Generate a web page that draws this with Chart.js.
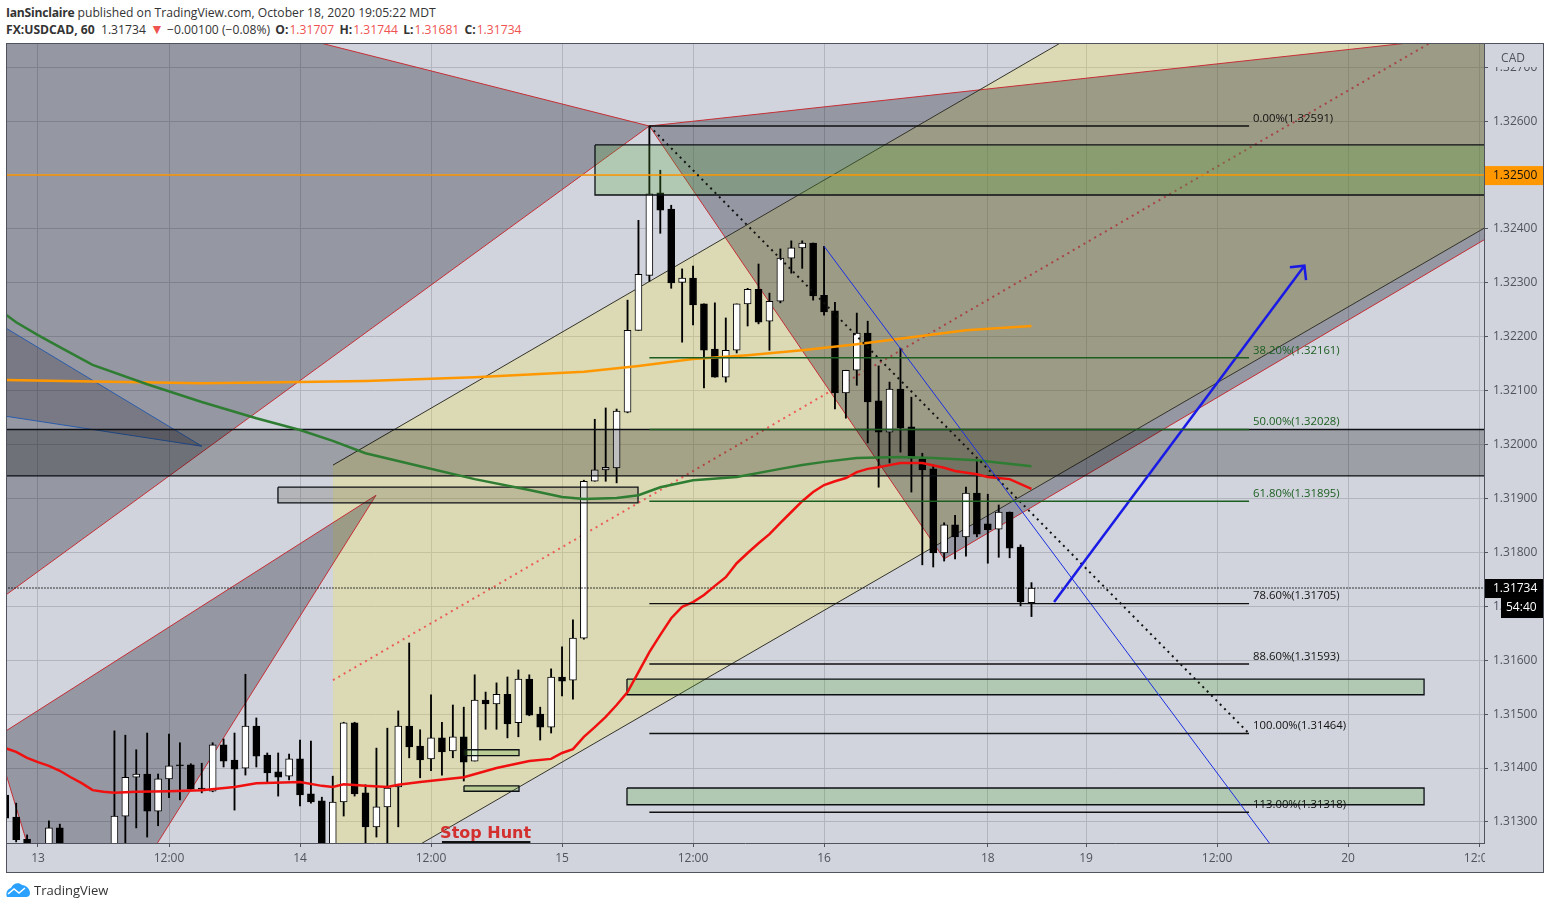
<!DOCTYPE html>
<html>
<head>
<meta charset="utf-8">
<title>USDCAD</title>
<script src="https://cdn.jsdelivr.net/npm/chart.js@4"></script>
<style>
body{margin:0;background:#fff;width:1550px;height:909px;overflow:hidden;position:relative;font-family:"Open Sans",sans-serif;color:#333}
canvas{position:absolute;left:0;top:0}
.head{position:absolute;left:6px;font-size:12.15px;line-height:16px;white-space:nowrap}
.head span{margin-left:1px}
.head b{margin-left:2px}
.red{color:#ef5350}
.tri{color:#ef5350;font-size:14px;line-height:12px}
#brand{position:absolute;left:34px;top:882px;font-size:13px;line-height:16px;color:#333}
#cloud{position:absolute;left:6px;top:882px}
</style>
</head>
<body>
<div class="head" style="top:5px"><b style="margin:0;letter-spacing:-.25px">IanSinclaire</b> published on TradingView.com, October 18, 2020 19:05:22 MDT</div>
<div class="head" style="top:22px"><b style="margin:0">FX:USDCAD, 60</b>&nbsp; 1.31734 <span class="tri">▼</span> −0.00100 (−0.08%) <b>O:</b><span class="red">1.31707</span> <b>H:</b><span class="red">1.31744</span> <b>L:</b><span class="red">1.31681</span> <b>C:</b><span class="red">1.31734</span></div>
<canvas id="c" width="1550" height="909"></canvas>
<svg id="cloud" width="25" height="16" viewBox="0 0 25 16"><path fill="#2aa1ff" d="M1 15 C-1 10 2 7 5 6 C7 1 13 0 16 3 C20 3 24 7 24 11 C24 14 22 15 20 15 Z"/><path fill="none" stroke="#fff" stroke-width="1.6" d="M2 12 L8 7 L13 11 L19 6"/></svg>
<div id="brand">TradingView</div>
<script>
// candles, first one is bar -3, 13th 00:00 is bar 0
var firstBar = -3
var opens = [1.31350,1.31309,1.31268,1.31250,1.31239,1.31289,1.31230,1.31210,1.31225,1.31205,1.31248,1.31311,1.31383,1.31389,1.31320,1.31380,1.31406,1.31406,1.31363,1.31357,1.31443,1.31415,1.31400,1.31478,1.31424,1.31393,1.31385,1.31417,1.31352,1.31339,1.31248,1.31337,1.31484,1.31354,1.31291,1.31328,1.31365,1.31478,1.31441,1.31417,1.31456,1.31432,1.31458,1.31413,1.31526,1.31519,1.31537,1.31484,1.31565,1.31500,1.31476,1.31569,1.31563,1.31641,1.31932,1.31953,1.31957,1.32060,1.32212,1.32314,1.32467,1.32437,1.32301,1.32309,1.32261,1.32177,1.32125,1.32175,1.32261,1.32288,1.32229,1.32266,1.32346,1.32365,1.32374,1.32277,1.32248,1.32096,1.32138,1.32207,1.32081,1.32023,1.32103,1.32033,1.31973,1.31955,1.31799,1.31851,1.31829,1.31910,1.31853,1.31843,1.31875,1.31810,1.31707]
var highs = [1.31359,1.31335,1.31276,1.31260,1.31302,1.31296,1.31245,1.31235,1.31240,1.31245,1.31469,1.31461,1.31434,1.31465,1.31389,1.31463,1.31447,1.31408,1.31409,1.31447,1.31454,1.31465,1.31574,1.31493,1.31428,1.31428,1.31426,1.31452,1.31450,1.31346,1.31385,1.31485,1.31485,1.31369,1.31437,1.31474,1.31506,1.31632,1.31471,1.31536,1.31485,1.31517,1.31513,1.31573,1.31541,1.31558,1.31569,1.31582,1.31573,1.31513,1.31584,1.31625,1.31675,1.31934,1.32047,1.32068,1.32066,1.32268,1.32416,1.32591,1.32509,1.32444,1.32326,1.32331,1.32261,1.32263,1.32235,1.32261,1.32290,1.32335,1.32281,1.32363,1.32378,1.32378,1.32374,1.32368,1.32264,1.32138,1.32244,1.32229,1.32146,1.32116,1.32179,1.32088,1.31984,1.31962,1.31855,1.31869,1.31921,1.31971,1.31908,1.31888,1.31875,1.31814,1.31744]
var lows = [1.31294,1.31263,1.31239,1.31200,1.31225,1.31215,1.31200,1.31195,1.31190,1.31195,1.31235,1.31250,1.31289,1.31272,1.31293,1.31345,1.31341,1.31361,1.31354,1.31356,1.31402,1.31322,1.31387,1.31402,1.31374,1.31348,1.31378,1.31330,1.31335,1.31240,1.31240,1.31311,1.31348,1.31248,1.31272,1.31248,1.31291,1.31419,1.31382,1.31395,1.31387,1.31419,1.31376,1.31413,1.31472,1.31472,1.31456,1.31458,1.31497,1.31452,1.31465,1.31534,1.31528,1.31639,1.31932,1.31932,1.31929,1.32059,1.32212,1.32303,1.32392,1.32290,1.32190,1.32222,1.32105,1.32125,1.32116,1.32170,1.32220,1.32224,1.32175,1.32263,1.32318,1.32327,1.32268,1.32240,1.32066,1.32049,1.32110,1.32003,1.31921,1.31966,1.31986,1.31912,1.31777,1.31773,1.31784,1.31788,1.31793,1.31829,1.31780,1.31791,1.31790,1.31701,1.31681]
var closes = [1.31307,1.31267,1.31248,1.31220,1.31289,1.31230,1.31210,1.31225,1.31205,1.31240,1.31311,1.31383,1.31389,1.31320,1.31380,1.31404,1.31404,1.31361,1.31361,1.31443,1.31413,1.31398,1.31478,1.31422,1.31391,1.31383,1.31417,1.31350,1.31337,1.31248,1.31337,1.31484,1.31352,1.31291,1.31328,1.31363,1.31478,1.31439,1.31415,1.31456,1.31430,1.31458,1.31411,1.31526,1.31519,1.31537,1.31482,1.31565,1.31498,1.31476,1.31569,1.31561,1.31641,1.31932,1.31953,1.31958,1.32062,1.32212,1.32316,1.32465,1.32435,1.32300,1.32309,1.32259,1.32175,1.32125,1.32175,1.32261,1.32288,1.32227,1.32266,1.32346,1.32365,1.32374,1.32276,1.32246,1.32096,1.32138,1.32207,1.32079,1.32023,1.32103,1.32031,1.31975,1.31953,1.31799,1.31851,1.31829,1.31910,1.31834,1.31842,1.31875,1.31808,1.31708,1.31734]

// moving averages, [bar, price]
var maRed = [[-3,1.31437],[-2,1.31430],[-1,1.31419],[0,1.31411],[1,1.31404],[2,1.31395],[3,1.31383],[4,1.31372],[5,1.31359],[6,1.31356],[7,1.31354],[9,1.31356],[12,1.31357],[15,1.31359],[18,1.31365],[20,1.31372],[24,1.31374],[26,1.31367],[27,1.31365],[28,1.31370],[30,1.31367],[32,1.31365],[33,1.31369],[35,1.31374],[39,1.31383],[42,1.31400],[45,1.31413],[47,1.31417],[48,1.31428],[49,1.31435],[50,1.31458],[51,1.31476],[52,1.31495],[53,1.31517],[54,1.31541],[55,1.31578],[56,1.31615],[57,1.31647],[58,1.31678],[59,1.31699],[60,1.31708],[61,1.31721],[62,1.31738],[63,1.31754],[64,1.31780],[65,1.31799],[66,1.31817],[67,1.31834],[68,1.31855],[69,1.31875],[70,1.31895],[71,1.31912],[72,1.31925],[73,1.31932],[74,1.31938],[75,1.31949],[76,1.31955],[77,1.31958],[78,1.31962],[79,1.31966],[81,1.31966],[83,1.31957],[84,1.31951],[86,1.31945],[87,1.31940],[89,1.31936],[91,1.31918]]
var maOrange = [[-3,1.32120],[5,1.32117],[15,1.32114],[24,1.32116],[30,1.32118],[40,1.32125],[50,1.32135],[55,1.32146],[60,1.32159],[65,1.32166],[70,1.32175],[75,1.32186],[80,1.32199],[85,1.32212],[91,1.32220]]
var maGreen = [[-3,1.32242],[-2,1.32227],[0,1.32203],[2,1.32181],[5,1.32148],[10,1.32112],[15,1.32079],[20,1.32049],[24,1.32027],[27,1.32007],[30,1.31984],[35,1.31960],[40,1.31936],[45,1.31916],[48,1.31903],[50,1.31899],[53,1.31901],[55,1.31906],[57,1.31921],[60,1.31934],[64,1.31940],[68,1.31955],[70,1.31962],[72,1.31968],[75,1.31975],[79,1.31977],[82,1.31975],[86,1.31971],[91,1.31960]]

// fib levels
var fibPrices = [1.32591,1.32161,1.32028,1.31895,1.31705,1.31593,1.31464,1.31318]
var fibLabels = ["0.00%(1.32591)","38.20%(1.32161)","50.00%(1.32028)","61.80%(1.31895)","78.60%(1.31705)","88.60%(1.31593)","100.00%(1.31464)","113.00%(1.31318)"]
var fibColors = ["#111","#1b5e20","#1b5e20","#1b5e20","#111","#111","#111","#111"]

// axis
var xTickBars = [0,12,24,36,48,60,72,87,96,108,120,132]
var xTickLabels = ["13","12:00","14","12:00","15","12:00","16","18","19","12:00","20","12:00"]

// drawings on the chart, [bar, price]
var gannTopLeft = [[56,1.32591],[-6,1.32908],[-6,1.31676],[56,1.32591]]
var gannRight = [[56,1.32591],[143.08,1.32784],[143.08,1.32507],[83,1.31788],[56,1.32591]]
var gannBottom = [[30.96,1.31906],[-3.94,1.31456],[-0.68,1.31239],[10.26,1.31239],[30.96,1.31906]]
var blueWedge = [[15.02,1.31997],[-5.96,1.32253],[-5.96,1.32062],[15.02,1.31997]]
var channelFill = [[27.02,1.31962],[143.08,1.33326],[143.08,1.32526],[27.02,1.31165],[27.02,1.31962]]
var channelTop = [[27.02,1.31962],[143.08,1.33326]]
var channelBottom = [[27.02,1.31165],[143.08,1.32526]]
var channelMid = [[27.02,1.31563],[127.5,1.32745]]
var fibDiagonal = [[56,1.32591],[110.93,1.31464]]
var blueLine = [[72,1.32368],[113.6,1.31239]]
var arrowLine = [[93.07,1.31708],[116,1.32332]]
var arrowHead = [[114.67,1.32329],[116,1.32332],[116.15,1.32305]]
var stopHuntUnderline = [[37,1.31263],[45.1,1.31263]]
var zoneBand = [[-6,1.32028],[143,1.32028],[143,1.31942],[-6,1.31942],[-6,1.32028]]
var zoneTop = [[51.02,1.32556],[143,1.32556],[143,1.32463],[51.02,1.32463],[51.02,1.32556]]
var zoneSmall = [[21.98,1.31921],[54.96,1.31921],[54.96,1.31892],[21.98,1.31892],[21.98,1.31921]]
var zoneGreen1 = [[53.95,1.31565],[126.96,1.31565],[126.96,1.31536],[53.95,1.31536],[53.95,1.31565]]
var zoneGreen2 = [[53.95,1.31363],[126.96,1.31363],[126.96,1.31332],[53.95,1.31332],[53.95,1.31363]]
var zoneTiny1 = [[39.02,1.31434],[44.06,1.31434],[44.06,1.31423],[39.02,1.31423],[39.02,1.31434]]
var zoneTiny2 = [[39.02,1.31367],[44.06,1.31367],[44.06,1.31357],[39.02,1.31357],[39.02,1.31367]]

var hLevel = 1.325
var lastPrice = 1.31734

function toXY(arr){
	return arr.map(p => ({x: p[0], y: p[1]}))
}
function line(arr, color, width, dash){
	return {type: 'line', data: toXY(arr), borderColor: color, borderWidth: width, borderDash: dash || [], pointRadius: 0, fill: false, tension: 0}
}
function shape(arr, fillColor, edge, width){
	return {type: 'line', data: toXY(arr), backgroundColor: fillColor, borderColor: edge || 'rgba(0,0,0,0)', borderWidth: width === undefined ? 1 : width, pointRadius: 0, fill: 'shape', tension: 0}
}

var wicks = [], bodies = [], bodyFill = []
for(var i = 0; i < opens.length; i++){
	wicks.push({x: firstBar + i, y: [lows[i], highs[i]]})
	bodies.push({x: firstBar + i, y: [opens[i], closes[i]]})
	bodyFill.push(closes[i] >= opens[i] ? '#ffffff' : '#000000')
}

var RED_EDGE = '#c62f36'
var ZONE_EDGE = '#0c0f14'
var ZONE_GREEN = 'rgba(85,165,50,0.25)'
var sets = [
	shape(channelFill, 'rgba(255,235,59,0.25)'),
	line(channelMid, 'rgba(240,70,70,0.85)', 2, [2,4.2]),
	shape(gannTopLeft, 'rgba(10,10,30,0.3)', RED_EDGE),
	shape(gannRight, 'rgba(10,10,30,0.3)', RED_EDGE),
	shape(gannBottom, 'rgba(10,10,30,0.3)', RED_EDGE),
	shape(blueWedge, 'rgba(5,5,15,0.2)', '#2a5caa'),
	line(channelTop, '#33332a', 1),
	line(channelBottom, '#33332a', 1),
	{type: 'bar', data: wicks, backgroundColor: '#000', barThickness: 1.2, grouped: false, borderWidth: 0},
	{type: 'bar', data: bodies, backgroundColor: bodyFill, borderColor: '#000', borderWidth: 1, borderSkipped: false, barThickness: 7, grouped: false},
	shape(zoneBand, 'rgba(0,0,0,0.25)', ZONE_EDGE, 1.3),
	shape(zoneTop, ZONE_GREEN, ZONE_EDGE, 1.3),
	shape(zoneSmall, 'rgba(60,60,40,0.2)', ZONE_EDGE, 1.3),
	shape(zoneGreen1, ZONE_GREEN, ZONE_EDGE, 1.3),
	shape(zoneGreen2, ZONE_GREEN, ZONE_EDGE, 1.3),
	shape(zoneTiny1, ZONE_GREEN, ZONE_EDGE, 1.3),
	shape(zoneTiny2, ZONE_GREEN, ZONE_EDGE, 1.3),
	line([[-6,hLevel],[143,hLevel]], '#ff9800', 1.5),
	line([[-6,lastPrice],[143,lastPrice]], '#000', 1.3, [1,2]),
	line(maOrange, '#ff9800', 2.5),
	line(maGreen, '#2e7d32', 2.5),
	line(maRed, '#f01010', 2.5),
	line(fibDiagonal, '#111', 2, [2,4.2]),
	line(blueLine, '#1a2fe0', 1),
	line(arrowLine, '#1a1ae6', 2.5),
	line(arrowHead, '#1a1ae6', 2.5),
	line(stopHuntUnderline, '#111', 2)
]
fibPrices.forEach((p, k) => {
	sets.push(line([[56,p],[110.93,p]], fibColors[k], 1.4))
})
// first dataset is drawn on top, so count order backwards
sets.forEach((s, k) => { s.order = sets.length - k })

var overlay = {
	id: 'overlay',
	beforeDraw(chart){
		var c = chart.ctx
		c.save()
		c.fillStyle = '#d1d4dc'
		c.fillRect(6, 43, 1537, 829)
		c.restore()
	},
	afterDraw(chart){
		var c = chart.ctx, xs = chart.scales.x, ys = chart.scales.y
		c.save()
		// fib labels
		c.font = '11.3px "Open Sans"'
		c.textBaseline = 'middle'
		fibLabels.forEach((t, k) => {
			c.fillStyle = fibColors[k]
			c.fillText(t, xs.getPixelForValue(111.3), ys.getPixelForValue(fibPrices[k]) - 7.5)
		})
		c.font = 'bold 16px "DejaVu Sans"'
		c.fillStyle = '#d32f2f'
		c.textAlign = 'center'
		c.fillText('Stop Hunt', xs.getPixelForValue(41), ys.getPixelForValue(1.31300) + 12)
		// right axis boxes
		var rx = xs.right + 1
		c.font = '12px "Open Sans"'
		c.textAlign = 'left'
		c.fillStyle = '#d1d4dc'
		c.fillRect(rx, 844, 58, 28)
		c.fillRect(1490, 50, 50, 17)
		c.fillStyle = '#50535e'
		c.textAlign = 'center'
		c.fillText('CAD', 1513, 59)
		c.textAlign = 'left'
		var yOrange = ys.getPixelForValue(hLevel)
		c.fillStyle = '#ff9800'
		c.fillRect(rx, yOrange - 9, 59, 19)
		c.fillStyle = '#111'
		c.fillText(hLevel.toFixed(5), 1493, yOrange + 1)
		var yLast = ys.getPixelForValue(lastPrice)
		c.fillStyle = '#000'
		c.fillRect(rx, yLast - 9, 59, 19)
		c.fillRect(1501, yLast + 10, 42, 20)
		c.fillStyle = '#fff'
		c.fillText(lastPrice.toFixed(5), 1493, yLast + 1)
		c.fillText('54:40', 1506, yLast + 20)
		// frame
		c.strokeStyle = '#50535e'
		c.lineWidth = 1
		c.strokeRect(6.5, 43.5, 1537, 829)
		c.restore()
	}
}

new Chart(document.getElementById('c'), {
	data: {datasets: sets},
	plugins: [overlay],
	options: {
		responsive: false,
		animation: false,
		events: [],
		layout: {padding: {left: 6, top: 43, right: 7, bottom: 37}},
		plugins: {legend: {display: false}, tooltip: {enabled: false}},
		scales: {
			x: {
				type: 'linear',
				offset: false,
				min: -2.931,
				max: 132.45,
				afterBuildTicks(scale){ scale.ticks = xTickBars.map(v => ({value: v})) },
				afterFit(scale){ scale.height = 29 },
				grid: {offset: false, color: '#b2b5be', tickColor: '#50535e', tickLength: 4},
				border: {color: '#50535e'},
				ticks: {
					autoSkip: false,
					maxRotation: 0,
					padding: 4,
					color: '#50535e',
					font: {family: 'Open Sans', size: 12},
					callback(v){ return xTickLabels[xTickBars.indexOf(v)] }
				}
			},
			y: {
				type: 'linear',
				position: 'right',
				min: 1.31261,
				max: 1.32745,
				afterFit(scale){ scale.width = 59 },
				grid: {color: '#b2b5be', tickColor: '#50535e', tickLength: 4},
				border: {color: '#50535e'},
				ticks: {
					stepSize: 0.001,
					includeBounds: false,
					padding: 5,
					color: '#50535e',
					font: {family: 'Open Sans', size: 12},
					callback(v){ return v.toFixed(5) }
				}
			}
		}
	}
})
</script>
</body>
</html>
